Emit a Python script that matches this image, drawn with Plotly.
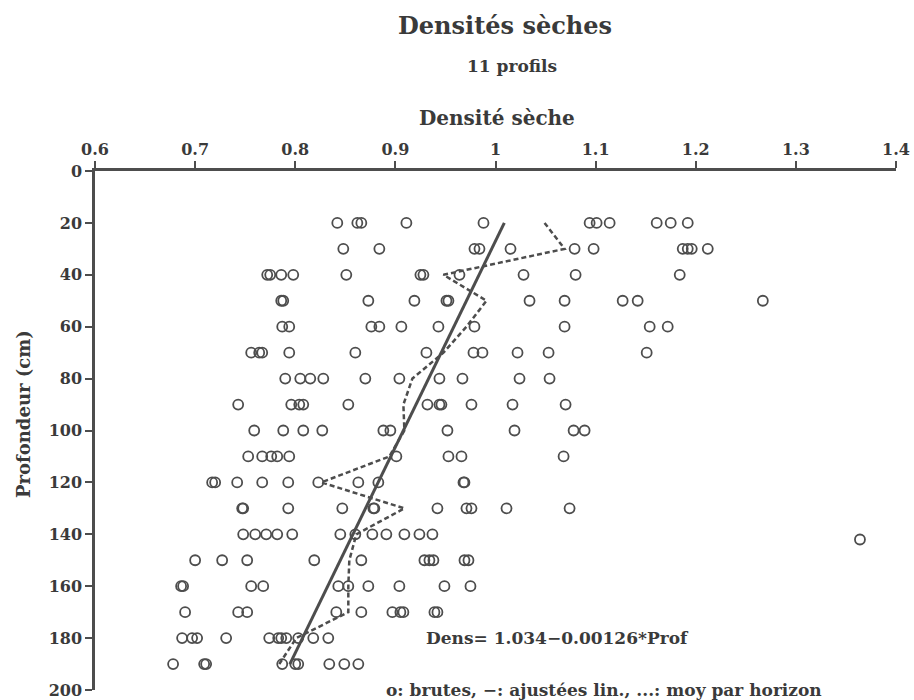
import plotly.graph_objects as go

# Raw dry densities per depth (cm)
depth_rows = [20, 30, 40, 50, 60, 70, 80, 90, 100, 110, 120, 130, 140, 150, 160, 170, 180, 190]
d20 = [0.842, 0.862, 0.866, 0.911, 0.988, 1.094, 1.101, 1.114, 1.161, 1.175, 1.192]
d30 = [0.848, 0.884, 0.979, 0.984, 1.015, 1.079, 1.098, 1.187, 1.192, 1.196, 1.212]
d40 = [0.772, 0.775, 0.786, 0.798, 0.851, 0.925, 0.928, 0.964, 1.028, 1.080, 1.184]
d50 = [0.786, 0.788, 0.873, 0.919, 0.951, 0.953, 1.034, 1.069, 1.127, 1.142, 1.267]
d60 = [0.787, 0.794, 0.876, 0.884, 0.906, 0.943, 0.979, 1.069, 1.154, 1.172]
d70 = [0.756, 0.764, 0.767, 0.794, 0.860, 0.931, 0.978, 0.987, 1.022, 1.053, 1.151]
d80 = [0.790, 0.805, 0.815, 0.828, 0.870, 0.904, 0.944, 0.967, 1.024, 1.054]
d90 = [0.743, 0.796, 0.804, 0.808, 0.853, 0.932, 0.944, 0.946, 0.976, 1.017, 1.070]
d100 = [0.759, 0.788, 0.808, 0.827, 0.888, 0.895, 0.952, 1.019, 1.078, 1.089]
d110 = [0.753, 0.767, 0.776, 0.782, 0.794, 0.901, 0.953, 0.966, 1.068]
d120 = [0.717, 0.720, 0.742, 0.767, 0.793, 0.823, 0.863, 0.883, 0.968, 0.969]
d130 = [0.747, 0.748, 0.793, 0.847, 0.878, 0.879, 0.942, 0.971, 0.976, 1.011, 1.074]
d140 = [0.748, 0.760, 0.771, 0.782, 0.797, 0.845, 0.860, 0.877, 0.891, 0.909, 0.924, 0.937]
d150 = [0.700, 0.727, 0.752, 0.819, 0.866, 0.929, 0.934, 0.938, 0.969, 0.973]
d160 = [0.686, 0.688, 0.756, 0.768, 0.843, 0.853, 0.873, 0.904, 0.949, 0.975]
d170 = [0.690, 0.743, 0.752, 0.841, 0.866, 0.897, 0.905, 0.908, 0.939, 0.942]
d180 = [0.687, 0.697, 0.702, 0.731, 0.774, 0.783, 0.786, 0.791, 0.803, 0.818, 0.833]
d190 = [0.678, 0.709, 0.711, 0.787, 0.800, 0.803, 0.834, 0.849, 0.863]
outlier_depth = [142]
outlier_dens = [1.364]

rows = [d20, d30, d40, d50, d60, d70, d80, d90, d100, d110, d120,
        d130, d140, d150, d160, d170, d180, d190]

# Mean per horizon (dashed)
mean_depth = depth_rows
mean_dens = [1.049, 1.069, 0.948, 0.991, 0.971, 0.948, 0.917, 0.908, 0.909,
             0.894, 0.826, 0.909, 0.861, 0.854, 0.853, 0.853, 0.801, 0.784]

# Linear fit
fit_a, fit_b = 1.034, -0.00126
fit_depth = [20, 190]
fit_dens = [fit_a + fit_b * p for p in fit_depth]

xticks = [0.6, 0.7, 0.8, 0.9, 1.0, 1.1, 1.2, 1.3, 1.4]
xticklabels = ["0.6", "0.7", "0.8", "0.9", "1", "1.1", "1.2", "1.3", "1.4"]
yticks = [0, 20, 40, 60, 80, 100, 120, 140, 160, 180, 200]
yticklabels = [str(v) for v in yticks]

raw_x, raw_y = [], []
for dep, vals in zip(depth_rows, rows):
    raw_x += vals
    raw_y += [dep] * len(vals)
raw_x += outlier_dens
raw_y += outlier_depth

INK = "#4d4d4d"
TXT = "#3a3a3a"
FONT = "DejaVu Serif"

L, R, T, B = 95, 18, 171, 10
PH = 700 - T - B


def py(pix):
    return (700 - B - pix) / PH


def px(pix):
    return (pix - L) / (914 - L - R)


fig = go.Figure()
fig.add_trace(go.Scatter(x=raw_x, y=raw_y, mode="markers",
                         marker=dict(symbol="circle-open", size=10,
                                     color=INK, line=dict(width=1.8, color=INK)),
                         showlegend=False))
fig.add_trace(go.Scatter(x=mean_dens, y=mean_depth, mode="lines",
                         line=dict(color=INK, width=2.5, dash="5px,3px"),
                         showlegend=False))
fig.add_trace(go.Scatter(x=fit_dens, y=fit_depth, mode="lines",
                         line=dict(color=INK, width=3),
                         showlegend=False))

fig.update_layout(
    width=914, height=700,
    margin=dict(l=L, r=R, t=T, b=B),
    paper_bgcolor="white", plot_bgcolor="white",
    font=dict(family=FONT, color=TXT, size=16),
    showlegend=False,
    xaxis=dict(side="top", range=[0.6, 1.4], tickvals=xticks, automargin=False,
               ticktext=["<b>%s</b>" % t for t in xticklabels],
               showline=True, linecolor=INK, linewidth=2.5, ticks="outside",
               ticklen=7, tickwidth=2, tickcolor=INK, showgrid=False, zeroline=False,
               tickfont=dict(family=FONT, size=16, color=TXT)),
    yaxis=dict(range=[200, 0], tickvals=yticks, automargin=False,
               ticktext=["<b>%s</b>" % t for t in yticklabels],
               showline=True, linecolor=INK, linewidth=2.5,
               ticks="outside", ticklen=7, tickwidth=2, tickcolor=INK,
               showgrid=False, zeroline=False,
               tickfont=dict(family=FONT, size=16, color=TXT)),
    annotations=[
        dict(text="<b>Densités sèches</b>", xref="paper", yref="paper", x=px(505), y=py(26),
             showarrow=False, font=dict(family=FONT, size=24, color=TXT), xanchor="center", yanchor="middle"),
        dict(text="<b>11 profils</b>", xref="paper", yref="paper", x=px(512), y=py(66),
             showarrow=False, font=dict(family=FONT, size=17, color=TXT), xanchor="center", yanchor="middle"),
        dict(text="<b>Densité sèche</b>", xref="paper", yref="paper", x=px(497), y=py(118),
             showarrow=False, font=dict(family=FONT, size=20, color=TXT), xanchor="center", yanchor="middle"),
        dict(text="<b>Profondeur (cm)</b>", xref="paper", yref="paper", x=px(23), y=py(414),
             showarrow=False, textangle=-90, font=dict(family=FONT, size=18, color=TXT),
             xanchor="center", yanchor="middle"),
        dict(text="<b>Dens= 1.034−0.00126*Prof</b>", x=0.929, y=180, xref="x", yref="y",
             showarrow=False, font=dict(family=FONT, size=17, color=TXT), xanchor="left", yanchor="middle"),
        dict(text="<b>o: brutes, −: ajustées lin., ...: moy par horizon</b>", x=0.889, y=200,
             xref="x", yref="y", showarrow=False, font=dict(family=FONT, size=17, color=TXT),
             xanchor="left", yanchor="middle"),
    ],
)
fig.write_html("out.html")
